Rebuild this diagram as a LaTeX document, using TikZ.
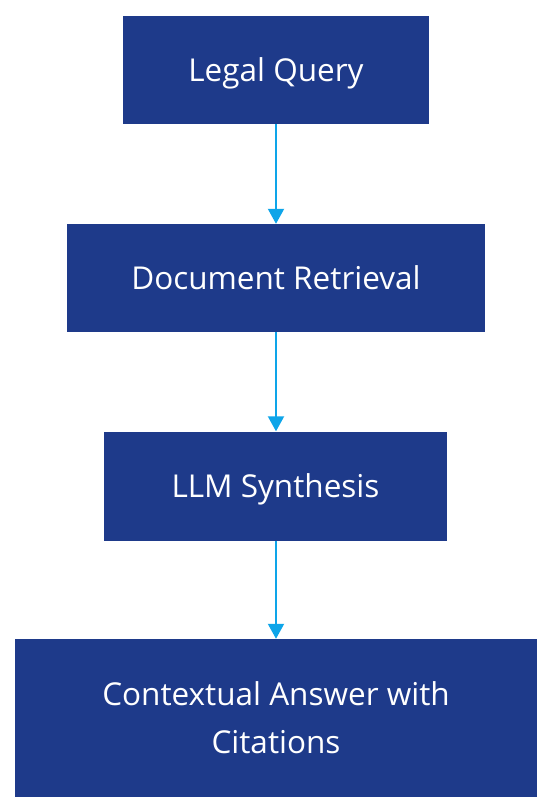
\documentclass[tikz,border=0pt]{standalone}
\usepackage{fontspec}
\setmainfont{Open Sans}
\usetikzlibrary{arrows.meta}
\definecolor{boxblue}{HTML}{1E3A8A}
\definecolor{arrowblue}{HTML}{0EA5E9}
\tikzset{
  flowbox/.style={fill=boxblue, draw=none, text=white, font=\fontsize{31.5}{48}\selectfont, align=center, inner sep=0pt},
  oneline/.style={text height=22.5pt, text depth=0pt},
  flowarrow/.style={draw=arrowblue, line width=2pt, -{Triangle[width=16pt,length=15pt]}}
}
\begin{document}
\begin{tikzpicture}[x=1pt,y=1pt]
\useasboundingbox (0,0) rectangle (552,-812);
\node[flowbox, oneline, minimum width=306pt, minimum height=108pt] (q) at (276,-70) {Legal Query};
\node[flowbox, oneline, minimum width=418pt, minimum height=108pt] (d) at (276,-278) {Document Retrieval};
\node[flowbox, oneline, minimum width=343pt, minimum height=109pt] (l) at (275.5,-486) {LLM Synthesis};
\node[flowbox, minimum width=522pt, minimum height=158pt] (c) at (276,-718) {Contextual Answer with\\Citations};
\draw[flowarrow] (q.south -| 276,0) -- (d.north -| 276,0);
\draw[flowarrow] (d.south -| 276,0) -- (l.north -| 276,0);
\draw[flowarrow] (l.south -| 276,0) -- (c.north -| 276,0);
\end{tikzpicture}
\end{document}
